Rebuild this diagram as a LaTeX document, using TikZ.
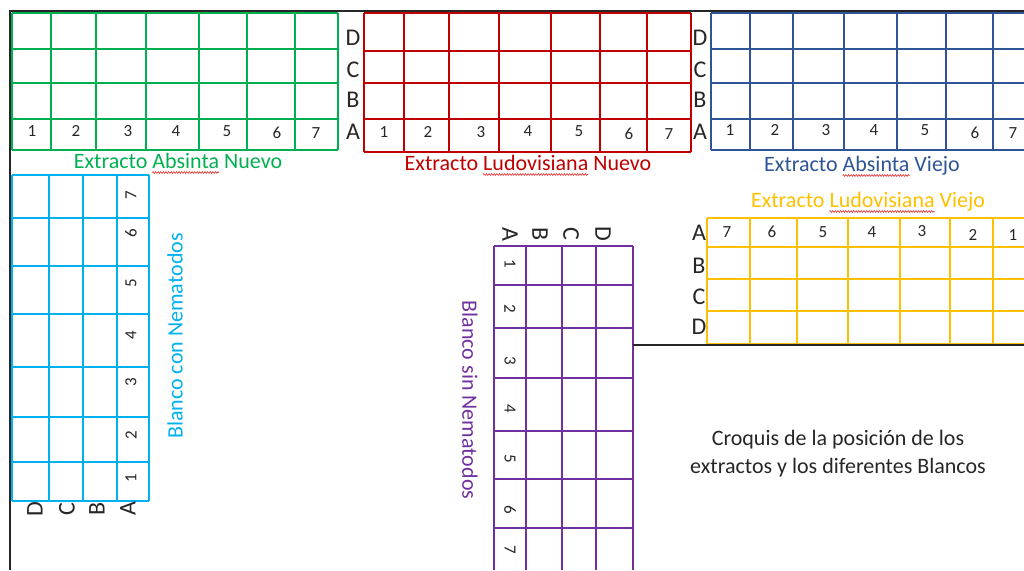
\documentclass[tikz,border=0pt]{standalone}
\usepackage{fontspec}
\setmainfont{Carlito}
\usetikzlibrary{decorations.pathmorphing}
\definecolor{absnew}{HTML}{00B050}
\definecolor{ludnew}{HTML}{C00000}
\definecolor{absold}{HTML}{2F5597}
\definecolor{ludold}{HTML}{FFC000}
\definecolor{connem}{HTML}{00B0F0}
\definecolor{sinnem}{HTML}{7030A0}
\definecolor{spell}{HTML}{E03030}
\newsavebox{\spellbox}
\newcommand{\spellchk}[1]{\sbox{\spellbox}{#1}\edef\spellw{\the\wd\spellbox}%
  \rlap{\tikz[overlay, baseline=0pt]\draw[spell, line width=0.6pt, decorate,
    decoration={zigzag, amplitude=0.9pt, segment length=2.6pt}] (0pt,-4.5pt) -- (\spellw,-4.5pt);}%
  \usebox{\spellbox}}
\tikzset{
  grid line/.style={line width=1.4pt},
  frame line/.style={line width=1.6pt, black!85},
  well/.style={font=\fontsize{17}{17}\selectfont, inner sep=0pt, text=black!85},
  rowlab/.style={font=\fontsize{24}{24}\selectfont, inner sep=0pt, text=black!85},
  title/.style={font=\fontsize{22}{26}\selectfont, inner sep=0pt, anchor=base},
}
\begin{document}
\begin{tikzpicture}[x=1pt, y=-1pt]
  \useasboundingbox (0,0) rectangle (1024,570);
  % outer frame
  \coordinate (tl) at (10,11);
  \coordinate (tr) at (1024,11);
  \coordinate (bl) at (10,570);
  \draw[frame line] (tr) -- (tl) -- (bl);

  % Extracto Absinta Nuevo
  \begin{scope}[absnew, grid line]
    \foreach \x in {12,51,96,146,199,247,295,338} \draw (\x,13) -- (\x,150);
    \foreach \y in {13,49,83,119,150} \draw (12,\y) -- (338,\y);
  \end{scope}
  \foreach \n/\x/\y in {1/32/131,2/76/131,3/128/131,4/176/131,5/227/131,6/277/133,7/316/133}
    \node[well] (an\n) at (\x,\y) {\n};
  \node[title, text=absnew] (antitle) at (178,168) {Extracto \spellchk{Absinta} Nuevo};

  % Extracto Ludovisiana Nuevo
  \begin{scope}[ludnew, grid line]
    \foreach \x in {364,404,449,499,551,600,647,691} \draw (\x,13) -- (\x,152);
    \foreach \y in {13,51,83,119,152} \draw (364,\y) -- (691,\y);
  \end{scope}
  \foreach \n/\x/\y in {1/384/132,2/428/132,3/481/132,4/528/131,5/579/131,6/629/134,7/669/134}
    \node[well] (ln\n) at (\x,\y) {\n};
  \foreach \r/\y in {D/38,C/70,B/100,A/132}
    \node[rowlab] (lnrow\r) at (353,\y) {\r};
  \node[title, text=ludnew] (lntitle) at (528,170) {Extracto \spellchk{Ludovisiana} Nuevo};

  % Extracto Absinta Viejo
  \begin{scope}[absold, grid line]
    \foreach \x in {711,750,793,844,897,946,993} \draw (\x,13) -- (\x,150);
    \foreach \y in {13,49,83,119,150} \draw (711,\y) -- (1024,\y);
  \end{scope}
  \foreach \n/\x/\y in {1/730/130,2/775/130,3/826/130,4/874/130,5/925/130,6/975/133,7/1013/133}
    \node[well] (av\n) at (\x,\y) {\n};
  \foreach \r/\y in {D/38,C/70,B/100,A/132}
    \node[rowlab] (avrow\r) at (700,\y) {\r};
  \node[title, text=absold] (avtitle) at (862,171) {Extracto \spellchk{Absinta} Viejo};

  % Extracto Ludovisiana Viejo
  \begin{scope}[ludold, grid line]
    \foreach \x in {707,750,797,848,900,950,993} \draw (\x,218) -- (\x,344);
    \foreach \y in {218,247,279,311,344} \draw (707,\y) -- (1024,\y);
  \end{scope}
  \foreach \n/\x/\y in {7/727/232,6/772/232,5/823/232,4/872/232,3/922/231,2/973/235,1/1013/235}
    \node[well] (lv\n) at (\x,\y) {\n};
  \foreach \r/\y in {A/233,B/266,C/297,D/327}
    \node[rowlab] (lvrow\r) at (699,\y) {\r};
  \node[title, text=ludold] (lvtitle) at (868,207) {Extracto \spellchk{Ludovisiana} Viejo};

  % Blanco con Nematodos
  \begin{scope}[connem, grid line]
    \foreach \x in {12,49,83,117,149} \draw (\x,175) -- (\x,501);
    \foreach \y in {175,218,266,314,367,417,462,501} \draw (12,\y) -- (149,\y);
  \end{scope}
  \foreach \n/\y in {1/478,2/435,3/382,4/335,5/283,6/233,7/195}
    \node[well, rotate=90] (cn\n) at (131,\y) {\n};
  \foreach \r/\x in {D/35,C/67,B/97,A/128}
    \node[rowlab, rotate=90] (cnrow\r) at (\x,509) {\r};
  \node[title, anchor=center, rotate=90, text=connem] (cntitle) at (175,336) {Blanco con Nematodos};

  % Blanco sin Nematodos
  \begin{scope}[sinnem, grid line]
    \foreach \x in {494,526,562,596,633} \draw (\x,246) -- (\x,570);
    \foreach \y in {246,285,328,378,431,479,528} \draw (494,\y) -- (633,\y);
  \end{scope}
  \foreach \n/\y in {1/264,2/309,3/361,4/409,5/459,6/510,7/550}
    \node[well, rotate=-90] (sn\n) at (510,\y) {\n};
  \foreach \r/\x in {A/510,B/540,C/571,D/603}
    \node[rowlab, rotate=-90] (snrow\r) at (\x,234) {\r};
  \node[title, anchor=center, rotate=-90, text=sinnem] (sntitle) at (470,400) {Blanco sin Nematodos};

  % dividing line
  \coordinate (divl) at (633,345);
  \coordinate (divr) at (1024,345);
  \draw[frame line, line width=1.3pt] (divl) -- (divr);

  \node[font=\fontsize{22}{28}\selectfont, align=center, inner sep=0pt, text=black!85] (note) at (838,454)
    {Croquis de la posición de los\\extractos y los diferentes Blancos};
\end{tikzpicture}
\end{document}
